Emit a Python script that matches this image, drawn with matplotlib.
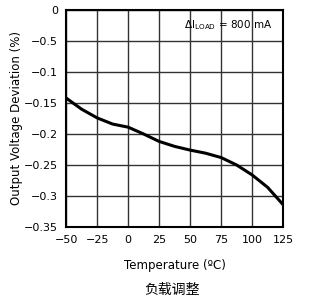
import matplotlib
matplotlib.use("Agg")
import matplotlib.pyplot as plt

plt.rcParams['font.family'] = ['DejaVu Sans', 'Noto Sans CJK SC']

temp = [-50, -37.5, -25, -12.5, 0, 12.5, 25, 37.5, 50, 62.5, 75, 87.5, 100, 112.5, 125]
dev = [-0.142, -0.160, -0.174, -0.184, -0.189, -0.200, -0.212, -0.220, -0.226,
       -0.231, -0.238, -0.250, -0.266, -0.286, -0.314]

xticks = [-50, -25, 0, 25, 50, 75, 100, 125]
yticks = [0, -0.05, -0.1, -0.15, -0.2, -0.25, -0.3, -0.35]
ylabels = ['0', '-0.5', '-0.1', '-0.15', '-0.2', '-0.25', '-0.3', '-0.35']

fig = plt.figure(figsize=(3.09, 3.05), dpi=100)
ax = fig.add_axes([0.214, 0.256, 0.702, 0.711])

ax.plot(temp, dev, color='black', lw=2.2, solid_joinstyle='round')
ax.set_xlim(-50, 125)
ax.set_ylim(-0.35, 0)
ax.set_xticks(xticks)
ax.set_xticklabels([str(t).replace('-', '\u2212') for t in xticks])
ax.set_yticks(yticks)
ax.set_yticklabels([s.replace('-', '\u2212') for s in ylabels])
ax.grid(True, color='#333333', lw=1)
ax.tick_params(length=0, labelsize=8, pad=6)
for s in ax.spines.values():
    s.set_linewidth(1.5)

ax.set_xlabel('Temperature (ºC)', fontsize=8.5, labelpad=10)
ax.set_ylabel('Output Voltage Deviation (%)', fontsize=8.5)
ax.yaxis.set_label_coords(-0.2, 0.5)
ax.text(0.95, 0.93, r'$\Delta$I$_{\mathrm{LOAD}}$ = 800 mA', transform=ax.transAxes,
        ha='right', va='center', fontsize=7.5)
fig.text(0.557, 0.05, '负载调整', ha='center', va='center', fontsize=10,
         family=['Noto Sans CJK SC', 'DejaVu Sans'])

fig.savefig('out.png', dpi=100)
